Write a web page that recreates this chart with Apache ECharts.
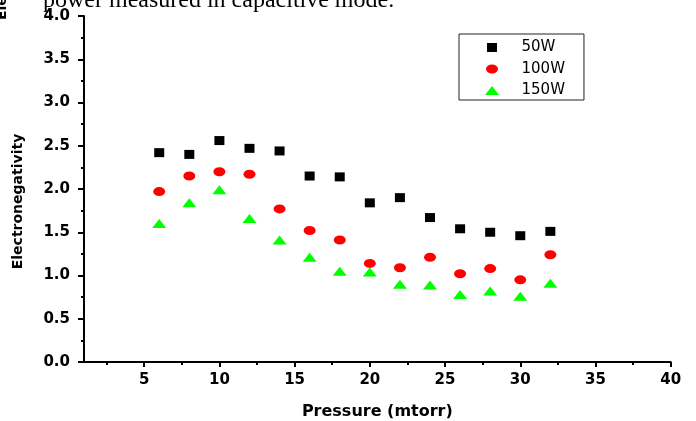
<!DOCTYPE html>
<html>
<head>
<meta charset="utf-8">
<script src="https://cdn.jsdelivr.net/npm/echarts@6/dist/echarts.min.js"></script>
<style>
  html, body { margin: 0; padding: 0; background: #fff; }
  #chart { width: 696px; height: 421px; }
</style>
</head>
<body>
<div id="chart"></div>
<script>
// Pressure (mtorr) for each measurement
const pressure = [6, 8, 10, 12, 14, 16, 18, 20, 22, 24, 26, 28, 30, 32];
// Electronegativity at each RF power
const power50W  = [2.42, 2.40, 2.56, 2.47, 2.44, 2.15, 2.14, 1.84, 1.90, 1.67, 1.54, 1.50, 1.46, 1.51];
const power100W = [1.97, 2.15, 2.20, 2.17, 1.77, 1.52, 1.41, 1.14, 1.09, 1.21, 1.02, 1.08, 0.95, 1.24];
const power150W = [1.60, 1.84, 1.99, 1.66, 1.41, 1.21, 1.05, 1.04, 0.90, 0.89, 0.78, 0.82, 0.76, 0.91];
const seriesNames = ['50W', '100W', '150W'];

// Axis ticks
const xMajorTicks = [5, 10, 15, 20, 25, 30, 35, 40];
const xMinorTicks = [2.5, 7.5, 12.5, 17.5, 22.5, 27.5, 32.5, 37.5];

const captionText = 'power measured in capacitive mode.';
const clippedAxisTitle = 'Electronegativity';

const boldFont = 'DejaVu Sans';
const ellipsePath = 'path://M0,4.5A6,4.5,0,1,1,12,4.5A6,4.5,0,1,1,0,4.5Z';
const squarePath = 'path://M0,0H10V9H0Z';
const trianglePath = 'path://M7,0L14,9L0,9Z';

const pairs = (ys) => pressure.map((x, i) => [x, ys[i]]);

const chart = echarts.init(document.getElementById('chart'), null, { renderer: 'canvas' });

const axisLineStyle = { color: '#000', width: 2 };

chart.setOption({
  backgroundColor: '#ffffff',
  animation: false,
  grid: { left: 84, right: 25.3, top: 16, bottom: 59, containLabel: false, outerBoundsMode: 'none' },
  xAxis: [
    {
      type: 'value',
      min: 1,
      max: 40,
      name: 'Pressure (mtorr)',
      nameLocation: 'middle',
      nameGap: 42,
      nameTextStyle: { fontFamily: boldFont, fontWeight: 'bold', fontSize: 16, color: '#000' },
      axisLine: { show: true, onZero: false, lineStyle: axisLineStyle },
      axisTick: { show: true, customValues: xMajorTicks, length: 5, lineStyle: axisLineStyle },
      axisLabel: {
        customValues: xMajorTicks,
        margin: 11,
        fontFamily: boldFont, fontWeight: 'bold', fontSize: 15, color: '#000'
      },
      splitLine: { show: false }
    },
    {
      // minor ticks halfway between the labelled ones
      type: 'value',
      min: 1,
      max: 40,
      position: 'bottom',
      axisLine: { show: false },
      axisTick: { show: true, customValues: xMinorTicks, length: 3, lineStyle: axisLineStyle },
      axisLabel: { show: false },
      splitLine: { show: false }
    }
  ],
  yAxis: {
    type: 'value',
    min: 0,
    max: 4,
    interval: 0.5,
    name: 'Electronegativity',
    nameLocation: 'middle',
    nameGap: 59,
    nameTextStyle: {
      fontFamily: boldFont, fontWeight: 'bold', fontSize: 14, color: '#000',
      padding: [0, 25, 0, 0]
    },
    axisLine: { show: true, lineStyle: axisLineStyle },
    axisTick: { show: true, length: 6, lineStyle: axisLineStyle },
    minorTick: { show: true, splitNumber: 2, length: 3, lineStyle: axisLineStyle },
    axisLabel: {
      margin: 14,
      formatter: (v) => v.toFixed(1),
      fontFamily: boldFont, fontWeight: 'bold', fontSize: 15, color: '#000'
    },
    splitLine: { show: false }
  },
  legend: {
    orient: 'vertical',
    left: 459,
    top: 34,
    padding: [6, 19, 2, 26],
    itemGap: 6.5,
    itemWidth: 49,
    itemHeight: 9,
    symbolKeepAspect: true,
    borderColor: '#222',
    borderWidth: 1,
    textStyle: { fontFamily: 'DejaVu Sans', fontSize: 15, lineHeight: 15, color: '#000' },
    data: [
      { name: seriesNames[0], icon: squarePath },
      { name: seriesNames[1], icon: ellipsePath },
      { name: seriesNames[2], icon: trianglePath }
    ]
  },
  series: [
    {
      name: seriesNames[0], type: 'scatter', data: pairs(power50W),
      symbol: 'rect', symbolSize: [10, 9], itemStyle: { color: '#000000', opacity: 1 }
    },
    {
      name: seriesNames[1], type: 'scatter', data: pairs(power100W),
      symbol: ellipsePath, symbolSize: [12, 9], itemStyle: { color: '#ff0000', opacity: 1 }
    },
    {
      name: seriesNames[2], type: 'scatter', data: pairs(power150W),
      symbol: 'triangle', symbolSize: [14, 9], itemStyle: { color: '#00ff00', opacity: 1 }
    }
  ],
  graphic: [
    {
      type: 'text',
      left: 43,
      top: -11,
      style: { text: captionText, font: '24px "Liberation Serif"', fill: '#000' }
    },
    {
      type: 'text',
      x: 9,
      y: 20,
      rotation: Math.PI / 2,
      style: {
        text: clippedAxisTitle,
        font: 'bold 14px "DejaVu Sans"',
        fill: '#000',
        align: 'left',
        verticalAlign: 'bottom'
      }
    }
  ]
});
</script>
</body>
</html>
